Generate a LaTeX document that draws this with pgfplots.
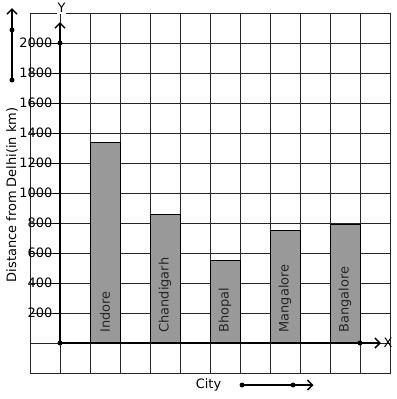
\documentclass[border=0pt]{standalone}
\usepackage{pgfplots}
\pgfplotsset{compat=1.18}
\usepackage{fontspec}
\setmainfont{DejaVu Sans}
\usetikzlibrary{arrows.meta}
\begin{document}
\fontsize{13}{15}\selectfont
\begin{tikzpicture}
\begin{axis}[
  scale only axis, width=360bp, height=360bp,
  xmin=-1, xmax=11, ymin=-200, ymax=2200,
  xtick={-1,0,...,11}, ytick={-200,0,...,2200},
  xticklabels={}, yticklabels={},
  major tick length=0pt,
  grid=major, grid style={black!85, line width=0.8bp},
  axis line style={black!85, line width=0.8bp},
  clip=false,
  ybar, bar width=1, bar shift=0pt,
]
\addplot[fill=black!40, draw=black, line width=0.8bp] coordinates {
 (1.5,1340) (3.5,860) (5.5,553) (7.5,753) (9.5,793)};
% axes
\draw[line width=2.2bp, -{Straight Barb[length=5bp,width=10bp,line width=1.5bp]}] (axis cs:0,0) -- (axis cs:0,2140);
\draw[line width=2.2bp, -{Straight Barb[length=5bp,width=10bp,line width=1.5bp]}] (axis cs:0,0) -- (axis cs:10.7,0);
\fill (axis cs:0,0) circle (2.5bp);
\fill (axis cs:0,2000) circle (2.5bp);
\fill (axis cs:10,0) circle (2.5bp);
\node[fill=white, inner sep=1bp] at (axis cs:0.05,2233) {Y};
\node[anchor=west, inner sep=1bp] at (axis cs:10.75,0) {X};
% y tick labels and ticks
\pgfplotsinvokeforeach{200,400,...,2000}{
  \draw[line width=0.8bp] (axis cs:-0.23,#1) -- (axis cs:0,#1);
  \node[anchor=east, inner sep=0.5bp] at (axis cs:-0.23,#1) {#1};
}
% bar labels
\node[rotate=90, anchor=west, text=black!85] at (axis cs:1.5,40) {Indore};
\node[rotate=90, anchor=west, text=black!85] at (axis cs:3.5,40) {Chandigarh};
\node[rotate=90, anchor=west, text=black!85] at (axis cs:5.5,40) {Bhopal};
\node[rotate=90, anchor=west, text=black!85] at (axis cs:7.5,40) {Mangalore};
\node[rotate=90, anchor=west, text=black!85] at (axis cs:9.5,40) {Bangalore};
% y label
\node[rotate=90] at (axis cs:-1.6,987) {Distance from Delhi(in km)};
\draw[line width=2bp, -{Straight Barb[length=5bp,width=10bp,line width=1.5bp]}] (axis cs:-1.6,1753) -- (axis cs:-1.6,2233);
\fill (axis cs:-1.6,1753) circle (2.5bp);
\fill (axis cs:-1.6,2087) circle (2.5bp);
% x label
\node at (axis cs:4.95,-280) {City};
\draw[line width=2bp, -{Straight Barb[length=5bp,width=10bp,line width=1.5bp]}] (axis cs:6.07,-280) -- (axis cs:8.45,-280);
\fill (axis cs:6.07,-280) circle (2.5bp);
\fill (axis cs:7.77,-280) circle (2.5bp);
\path (axis cs:-2,-373.3) rectangle (axis cs:11.233,2286.7);
\end{axis}
\end{tikzpicture}
\end{document}
